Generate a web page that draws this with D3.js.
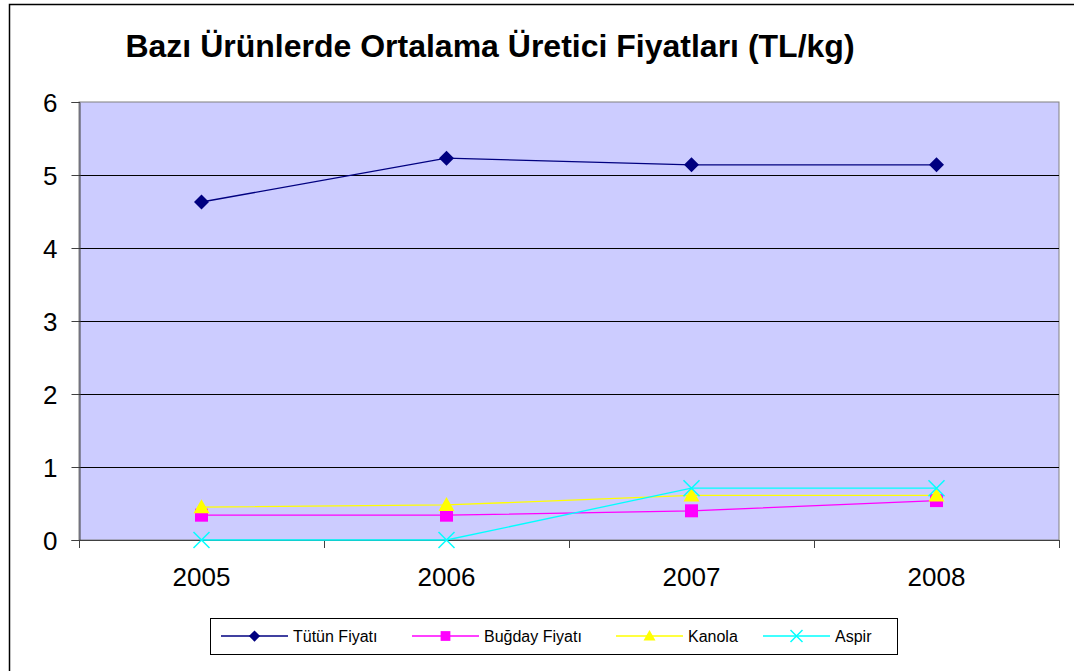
<!DOCTYPE html>
<html><head><meta charset="utf-8">
<script src="https://cdn.jsdelivr.net/npm/d3@7/dist/d3.min.js"></script>
<style>body{margin:0;background:#fff}svg{display:block;font-family:"Liberation Sans",Arial,sans-serif}</style>
</head><body>
<script>
const years = ["2005","2006","2007","2008"];
const tutun = [4.63, 5.23, 5.14, 5.14];
const bugday = [0.34, 0.34, 0.40, 0.54];
const kanola = [0.45, 0.48, 0.61, 0.61];
const aspir = [0, 0, 0.71, 0.71];
const yTicks = [0,1,2,3,4,5,6];
const seriesNames = ["Tütün Fiyatı","Buğday Fiyatı","Kanola","Aspir"];
const seriesColors = ["#000080","#FF00FF","#FFFF00","#00FFFF"];
const seriesSymbols = ["diamond","square","triangle","x"];
const title = "Bazı Ürünlerde Ortalama Üretici Fiyatları (TL/kg)";

const W=1074,H=671;
const svg=d3.select("body").append("svg").attr("width",W).attr("height",H);
svg.append("rect").attr("x",9.5).attr("y",4.5).attr("width",W+10).attr("height",H+10).attr("fill","#fff").attr("stroke","#000").attr("stroke-width",1.5);

const L=79,R=1059,T=102,B=540;
const x=d3.scaleBand().domain(years).range([L,R]);
const y=d3.scaleLinear().domain([0,6]).range([B,T]);

svg.append("rect").attr("x",L).attr("y",T).attr("width",R-L).attr("height",B-T).attr("fill","#CCCCFF").attr("stroke","#808080").attr("stroke-width",1);

// gridlines
svg.append("g").selectAll("line").data(yTicks.filter(d=>d>0&&d<6)).join("line")
  .attr("x1",L).attr("x2",R).attr("y1",d=>y(d)+0.5).attr("y2",d=>y(d)+0.5).attr("stroke","#000").attr("stroke-width",1);

// y axis
const ya=svg.append("g").attr("transform",`translate(${L+0.5},0)`).call(d3.axisLeft(y).tickValues(yTicks).tickSize(8).tickPadding(14).tickFormat(d3.format("d")));
ya.select(".domain").attr("stroke","#404040");
ya.selectAll(".tick line").attr("stroke","#404040");
ya.selectAll("text").attr("font-size",26).attr("fill","#000").attr("font-family","Liberation Sans, Arial, sans-serif").attr("dy","0.35em");

// x axis
const xa=svg.append("g").attr("transform",`translate(0,${B+0.5})`).call(d3.axisBottom(x).tickSize(0).tickPadding(27));
xa.select(".domain").attr("stroke","#404040").attr("d",`M${L},0H${R}`);
xa.selectAll("text").attr("font-size",26).attr("fill","#000").attr("font-family","Liberation Sans, Arial, sans-serif");
const bounds=[L,...years.map(d=>x(d)+x.bandwidth())];
svg.append("g").selectAll("line").data(bounds).join("line")
  .attr("x1",d=>Math.round(d)+0.5).attr("x2",d=>Math.round(d)+0.5).attr("y1",B).attr("y2",B+8).attr("stroke","#404040");

const cx=d=>x(d)+x.bandwidth()/2;
const data=[tutun,bugday,kanola,aspir];
const line=d3.line().x((v,i)=>cx(years[i])).y(v=>y(v));

function drawSymbol(g,type,px,py,color,scale){
  const s=scale||1;
  if(type==="diamond"){
    const r=7.5*s;
    g.append("path").attr("d",`M${px},${py-r}L${px+r},${py}L${px},${py+r}L${px-r},${py}Z`).attr("fill",color);
  } else if(type==="square"){
    const r=6.5*s;
    g.append("rect").attr("x",px-r).attr("y",py-r).attr("width",2*r).attr("height",2*r).attr("fill",color);
  } else if(type==="triangle"){
    const r=8*s;
    g.append("path").attr("d",`M${px},${py-r}L${px+r},${py+r*0.75}L${px-r},${py+r*0.75}Z`).attr("fill",color);
  } else {
    const r=8*s;
    g.append("path").attr("d",`M${px-r},${py-r}L${px+r},${py+r}M${px+r},${py-r}L${px-r},${py+r}`).attr("stroke",color).attr("stroke-width",1.5).attr("fill","none");
  }
}

data.forEach((vals,k)=>{
  svg.append("path").attr("d",line(vals)).attr("fill","none").attr("stroke",seriesColors[k]).attr("stroke-width",1.3);
});
data.forEach((vals,k)=>{
  const g=svg.append("g");
  vals.forEach((v,i)=>drawSymbol(g,seriesSymbols[k],cx(years[i]),y(v),seriesColors[k]));
});

// title
svg.append("text").attr("x",490).attr("y",57).attr("text-anchor","middle").attr("font-size",32).attr("font-weight","bold").text(title);

// legend
const lg=svg.append("g");
lg.append("rect").attr("x",210.5).attr("y",618.5).attr("width",687).attr("height",36).attr("fill","#fff").attr("stroke","#000").attr("stroke-width",1);
const legX=[221,412,616,763];
const lw=67, ly=636;
seriesNames.forEach((n,k)=>{
  lg.append("line").attr("x1",legX[k]).attr("x2",legX[k]+lw).attr("y1",ly).attr("y2",ly).attr("stroke",seriesColors[k]).attr("stroke-width",1.3);
  drawSymbol(lg,seriesSymbols[k],legX[k]+lw/2,ly,seriesColors[k],0.75);
  lg.append("text").attr("x",legX[k]+lw+5).attr("y",ly+6).attr("font-size",16).text(n);
});
</script>
</body></html>
